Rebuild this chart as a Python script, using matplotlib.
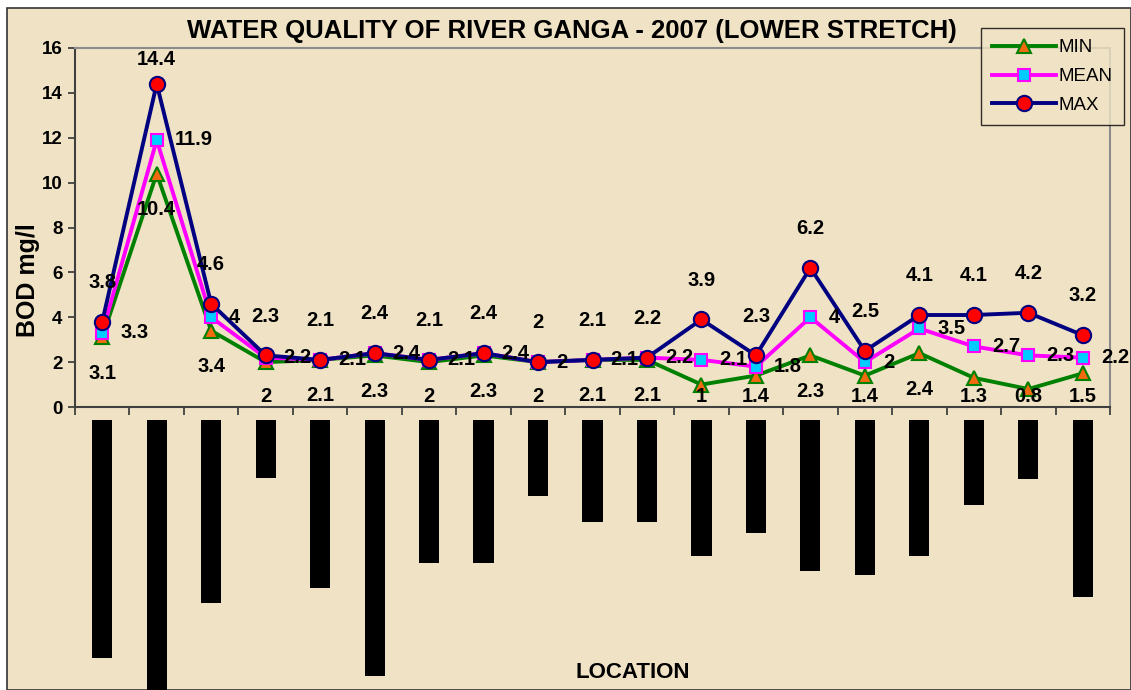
import matplotlib
matplotlib.use("Agg")
import matplotlib.pyplot as plt
import numpy as np
from matplotlib.patches import Rectangle

W, H = 1131, 690
BG = "#F0E3C5"
FONT = "Liberation Sans"

# BOD (mg/l) at the 19 locations of the lower stretch
bod_min = [3.1, 10.4, 3.4, 2, 2.1, 2.3, 2, 2.3, 2, 2.1, 2.1, 1, 1.4, 2.3, 1.4, 2.4, 1.3, 0.8, 1.5]
bod_mean = [3.3, 11.9, 4, 2.2, 2.1, 2.4, 2.1, 2.4, 2, 2.1, 2.2, 2.1, 1.8, 4, 2, 3.5, 2.7, 2.3, 2.2]
bod_max = [3.8, 14.4, 4.6, 2.3, 2.1, 2.4, 2.1, 2.4, 2, 2.1, 2.2, 3.9, 2.3, 6.2, 2.5, 4.1, 4.1, 4.2, 3.2]
# location names are blacked out in the source; length of each black box
label_lengths = [238, 275, 183, 58, 168, 256, 143, 143, 76, 102, 102, 136, 113, 151, 155, 136, 85, 59, 177]
y_ticks = [0, 2, 4, 6, 8, 10, 12, 14, 16]


def px(x0, y0, x1, y1):
    """pixel box (top-left origin) -> figure fraction rect"""
    return [x0 / W, 1 - y1 / H, (x1 - x0) / W, (y1 - y0) / H]


fig = plt.figure(figsize=(W / 100, H / 100), dpi=100)
fig.patch.set_facecolor("white")
fig.add_artist(
    Rectangle((7 / W, 0), (W - 7) / W, (H - 8) / H, transform=fig.transFigure,
              facecolor=BG, edgecolor="#333333", linewidth=1.2, zorder=-10)
)

ax = fig.add_axes(px(75, 48, 1110, 407))
ax.set_facecolor("none")
x = np.arange(len(bod_max))
ax.set_xlim(-0.5, len(x) - 0.5)
ax.set_ylim(0, 16)

ax.plot(x, bod_min, color="#008000", lw=2.8, marker="^", ms=10, mfc="#F26A10",
        mec="#008000", mew=1.5, label="MIN", zorder=3)
ax.plot(x, bod_mean, color="#FF00FF", lw=2.8, marker="s", ms=8, mfc="#00CCFF",
        mec="#FF00FF", mew=1.5, label="MEAN", zorder=4)
ax.plot(x, bod_max, color="#000080", lw=2.8, marker="o", ms=11, mfc="#FF0000",
        mec="#000080", mew=1.5, label="MAX", zorder=5)

lab = dict(fontfamily=FONT, fontweight="bold", fontsize=14.5, color="black", zorder=6)
for i in x:
    # Excel keeps labels inside the plot area
    ax.text(i, min(bod_max[i] + 1.75, 15.5), f"{bod_max[i]:g}", ha="center", va="center", **lab)
    ax.text(i, max(bod_min[i] - 1.6, 0.45), f"{bod_min[i]:g}", ha="center", va="center", **lab)
    ax.annotate(f"{bod_mean[i]:g}", (i, bod_mean[i]), xytext=(13, 0), textcoords="offset points",
                ha="left", va="center", annotation_clip=False, **lab)

ax.set_yticks(y_ticks)
ax.set_yticklabels([str(t) for t in y_ticks], fontfamily=FONT, fontweight="bold", fontsize=13.5)
ax.set_xticks(np.arange(-0.5, len(x), 1.0))
ax.set_xticklabels([])
ax.tick_params(axis="y", direction="out", length=5, width=1.2, pad=4, colors="#333333", labelcolor="black")
ax.tick_params(axis="x", direction="out", length=6, width=1.2, colors="#333333")
for side in ("left", "bottom"):
    ax.spines[side].set_color("#404040")
    ax.spines[side].set_linewidth(1.5)
for side in ("top", "right"):
    ax.spines[side].set_color("#8C8C8C")
    ax.spines[side].set_linewidth(1.5)

leg = ax.legend(loc="upper left", bbox_to_anchor=(981 / W, 1 - 28 / H), bbox_transform=fig.transFigure,
                frameon=True, fancybox=False, handlelength=3.4, handletextpad=0.15,
                labelspacing=0.62, borderpad=0.6, borderaxespad=0,
                prop=dict(family=FONT, size=13.5))
leg.get_frame().set_edgecolor("black")
leg.get_frame().set_facecolor(BG)
leg.get_frame().set_linewidth(1.0)
leg.set_zorder(10)

# black boxes hiding the rotated location names
axb = fig.add_axes(px(75, 420, 1110, 690))
axb.set_xlim(-0.5, len(x) - 0.5)
axb.set_ylim(270, 0)
axb.bar(x, label_lengths, width=0.37, bottom=0, color="black", align="center")
axb.axis("off")

fig.text(572 / W, 1 - 31 / H, "WATER QUALITY OF RIVER GANGA - 2007 (LOWER STRETCH)",
         fontfamily=FONT, fontweight="bold", fontsize=18.5, ha="center", va="center")
fig.text(28 / W, 1 - 280 / H, "BOD mg/l", fontfamily=FONT, fontweight="bold", fontsize=18,
         rotation=90, ha="center", va="center")
fig.text(633 / W, 1 - 672 / H, "LOCATION", fontfamily=FONT, fontweight="bold", fontsize=16,
         ha="center", va="center")

fig.savefig("out.png", dpi=100, facecolor=fig.get_facecolor())
